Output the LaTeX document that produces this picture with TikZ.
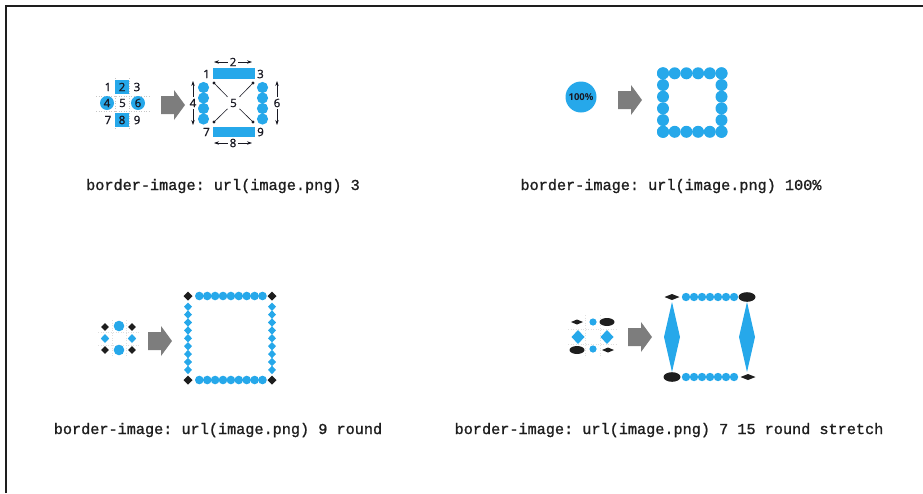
\documentclass[tikz,border=0pt]{standalone}
\usepackage{fontspec}
\setmainfont{Open Sans}
\setmonofont{Liberation Mono}[FakeBold=1.2]
\newfontfamily\numfont{Open Sans}[FakeBold=1.3]
\usetikzlibrary{arrows.meta}
\definecolor{bluec}{RGB}{38,168,234}
\definecolor{blk}{RGB}{30,30,30}
\definecolor{arrowgray}{RGB}{125,125,125}
\definecolor{numc}{RGB}{25,25,35}
\newcommand\mydia[5]{\fill[#5] (#1-#3,#2) -- (#1,#2-#4) -- (#1+#3,#2) -- (#1,#2+#4) -- cycle;}
\begin{document}
\begin{tikzpicture}[x=1pt,y=-1pt,
  bl/.style={fill=bluec},
  num/.style={font=\numfont\fontsize{11.5}{12}\selectfont, text=numc, inner sep=0pt},
  code/.style={font=\ttfamily\fontsize{15.2}{16}\selectfont, anchor=base, inner sep=0pt, text=blk},
  dim/.style={draw=numc, line width=0.6pt, <->, >={Stealth[length=5pt,width=3.4pt]}},
  dimlab/.style={num, fill=white, inner sep=2pt},
  bigarrow/.pic={\fill[arrowgray] (0,-9) -- (13,-9) -- (13,-15) -- (24,0) -- (13,15) -- (13,9) -- (0,9) -- cycle;},
  grid/.style={draw=gray!45, dotted, line width=0.5pt}
]
\useasboundingbox (0,0) rectangle (923,493);
\draw[line width=1.4pt, blk] (6,493) -- (6,6) -- (923,6);

% ---------- panel 1 ----------
\draw[grid] (115,78) -- (115,130); \draw[grid] (129,78) -- (129,130);
\draw[grid] (96,96) -- (150,96); \draw[grid] (96,111) -- (150,111);
\fill[bl] (115,80) rectangle (129,94);
\fill[bl] (115,113) rectangle (129,127);
\fill[bl] (107,103) circle (7pt);
\fill[bl] (138,103) circle (7pt);
\node[num] (g1) at (108,87) {1};
\node[num] (g2) at (122,87) {2};
\node[num] (g3) at (137,87) {3};
\node[num] (g4) at (107,103) {4};
\node[num] (g5) at (122.5,103) {5};
\node[num] (g6) at (138,103) {6};
\node[num] (g7) at (108,120) {7};
\node[num] (g8) at (122,120) {8};
\node[num] (g9) at (137,120) {9};
\pic at (161,105) {bigarrow};

\fill[bl] (213,68) rectangle (255,79);
\fill[bl] (213,127) rectangle (255,137);
\foreach \yy in {87.5,98,108.5,119} {
  \fill[bl] (203.5,\yy) circle (5.6pt);
  \fill[bl] (262.5,\yy) circle (5.6pt);
}
\node[num, inner sep=2.5pt] (five) at (233.5,103) {5};
\coordinate (c1) at (214,83);
\coordinate (c3) at (253,83);
\coordinate (c7) at (214,122);
\coordinate (c9) at (253,122);
\foreach \c in {c1,c3,c7,c9} {
  \fill[numc] (\c) circle (1.6pt);
  \draw[numc, line width=0.6pt] (\c) -- (five);
}
\node[num] (n1) at (206.5,74) {1};
\node[num] (n3) at (260.5,74) {3};
\node[num] (n7) at (206.5,132) {7};
\node[num] (n9) at (260.5,132) {9};
\coordinate (d2a) at (214,62);  \coordinate (d2b) at (252,62);
\coordinate (d8a) at (214,143); \coordinate (d8b) at (252,143);
\coordinate (d4a) at (193,81);  \coordinate (d4b) at (193,125);
\coordinate (d6a) at (277,81);  \coordinate (d6b) at (277,125);
\draw[dim] (d2a) -- node[dimlab] {2} (d2b);
\draw[dim] (d8a) -- node[dimlab] {8} (d8b);
\draw[dim] (d4a) -- node[dimlab] {4} (d4b);
\draw[dim] (d6a) -- node[dimlab] {6} (d6b);
\node[code] (t1) at (223,190) {border-image: url(image.png) 3};

% ---------- panel 2 ----------
\fill[bl] (581,97) circle (15.5pt);
\node[font=\bfseries\fontsize{9.5}{10}\selectfont, text=numc, inner sep=0pt] (pc) at (581,97) {100\%};
\pic at (618,100) {bigarrow};
\foreach \i in {0,...,5} {
  \fill[bl] (663+\i*11.7,73.3) circle (6pt);
  \fill[bl] (663+\i*11.7,131.8) circle (6pt);
  \fill[bl] (663,73.3+\i*11.7) circle (6pt);
  \fill[bl] (721.5,73.3+\i*11.7) circle (6pt);
}
\node[code] (t2) at (671,190) {border-image: url(image.png) 100\%};

% ---------- panel 3 ----------
\draw[grid, draw=gray!25] (112,320) -- (112,357); \draw[grid, draw=gray!25] (126,320) -- (126,357);
\draw[grid, draw=gray!25] (98,332) -- (139,332); \draw[grid, draw=gray!25] (98,345) -- (139,345);
\mydia{105}{327}{3.8}{3.8}{blk}
\mydia{132}{327}{3.8}{3.8}{blk}
\mydia{105}{350}{3.8}{3.8}{blk}
\mydia{132}{350}{3.8}{3.8}{blk}
\fill[bl] (119,326) circle (5.3pt);
\fill[bl] (119,350) circle (5.3pt);
\mydia{105}{338.5}{4.2}{4.5}{bluec}
\mydia{132}{338.5}{4.2}{4.5}{bluec}
\pic at (148,341) {bigarrow};
\mydia{188}{296}{4.5}{4.5}{blk}
\mydia{272}{296}{4.5}{4.5}{blk}
\mydia{188}{380}{4.5}{4.5}{blk}
\mydia{272}{380}{4.5}{4.5}{blk}
\foreach \i in {0,...,8} {
  \fill[bl] (199.3+\i*7.9,296) circle (4.3pt);
  \fill[bl] (199.3+\i*7.9,380) circle (4.3pt);
  \mydia{188}{306.7+\i*7.9}{4}{4.2}{bluec}
  \mydia{272}{306.7+\i*7.9}{4}{4.2}{bluec}
}
\node[code] (t3) at (218,434) {border-image: url(image.png) 9 round};

% ---------- panel 4 ----------
\draw[grid, draw=gray!25] (585,315) -- (585,357); \draw[grid, draw=gray!25] (600,315) -- (600,357);
\draw[grid, draw=gray!25] (568,329) -- (617,329); \draw[grid, draw=gray!25] (568,344) -- (617,344);
\mydia{577}{322}{6}{2.5}{blk}
\fill[bl] (593,322) circle (3.6pt);
\fill[blk] (607,322) ellipse [x radius=7.5pt, y radius=4pt];
\mydia{578}{337}{6.5}{7}{bluec}
\mydia{607}{337}{6.5}{7}{bluec}
\fill[blk] (577,350) ellipse [x radius=7.5pt, y radius=4pt];
\fill[bl] (593,349) circle (3.6pt);
\mydia{608}{350}{6}{2.5}{blk}
\pic at (628,337) {bigarrow};
\mydia{672}{297}{7.5}{3}{blk}
\foreach \i in {0,...,6} {
  \fill[bl] (686+\i*8,297) circle (4.2pt);
  \fill[bl] (686+\i*8,377) circle (4.2pt);
}
\fill[blk] (747,297) ellipse [x radius=8.5pt, y radius=4.8pt];
\fill[blk] (672,377) ellipse [x radius=8.5pt, y radius=4.8pt];
\mydia{748}{377}{7.5}{3}{blk}
\mydia{672}{337}{8}{35}{bluec}
\mydia{747}{337}{8}{35}{bluec}
\node[code] (t4) at (669,434) {border-image: url(image.png) 7 15 round stretch};
\end{tikzpicture}
\end{document}
